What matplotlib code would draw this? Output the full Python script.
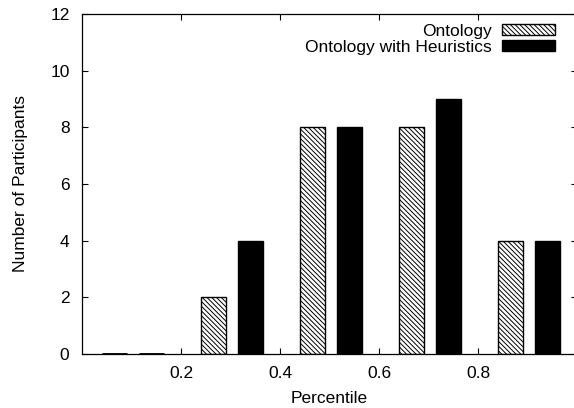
import numpy as np
import matplotlib
matplotlib.use("Agg")
import matplotlib.pyplot as plt

plt.rcParams['font.family'] = ['Liberation Sans', 'DejaVu Sans']
plt.rcParams['hatch.linewidth'] = 0.7

# percentile groups and participant counts
percentile = np.array([0.1, 0.3, 0.5, 0.7, 0.9])
ontology = [0, 2, 8, 8, 4]
ontology_heur = [0, 4, 8, 9, 4]

fs = 12.5
fig = plt.figure(figsize=(5.74, 4.08), dpi=100)
ax = fig.add_axes([82/574, 54/408, 495/574, 340/408])

w = 0.051
ax.bar(percentile - 0.035, ontology, w, color='white', edgecolor='black',
       hatch='\\' * 7, linewidth=1.0, label='Ontology')
ax.bar(percentile + 0.04, ontology_heur, w, color='black', edgecolor='black',
       linewidth=1.0, label='Ontology with Heuristics')
# zero-height bars show as a line on the axis in the original
for x, v in zip(percentile, ontology):
    if v == 0:
        ax.plot([x - 0.035 - w/2, x - 0.035 + w/2], [0, 0], color='black', lw=2, solid_capstyle='butt')
for x, v in zip(percentile, ontology_heur):
    if v == 0:
        ax.plot([x + 0.04 - w/2, x + 0.04 + w/2], [0, 0], color='black', lw=2, solid_capstyle='butt')

ax.set_xlim(0, 1.0)
ax.set_ylim(0, 12)
ax.set_xticks([0.2, 0.4, 0.6, 0.8])
ax.set_xticklabels(['0.2', '0.4', '0.6', '0.8'])
ax.set_yticks(range(0, 13, 2))
ax.tick_params(direction='in', top=True, right=True, length=4, width=0.8,
               labelsize=fs, pad=9)
for s in ax.spines.values():
    s.set_linewidth(0.9)

ax.set_xlabel('Percentile', fontsize=fs, labelpad=7)
ax.set_ylabel('Number of Participants', fontsize=fs, labelpad=16)

ax.legend(loc='upper right', bbox_to_anchor=(0.974, 0.997), frameon=False,
          markerfirst=False, fontsize=fs, handlelength=3.05, handleheight=0.6,
          handletextpad=0.63, labelspacing=0.08, borderpad=0.0)

fig.savefig('out.png', dpi=100)
